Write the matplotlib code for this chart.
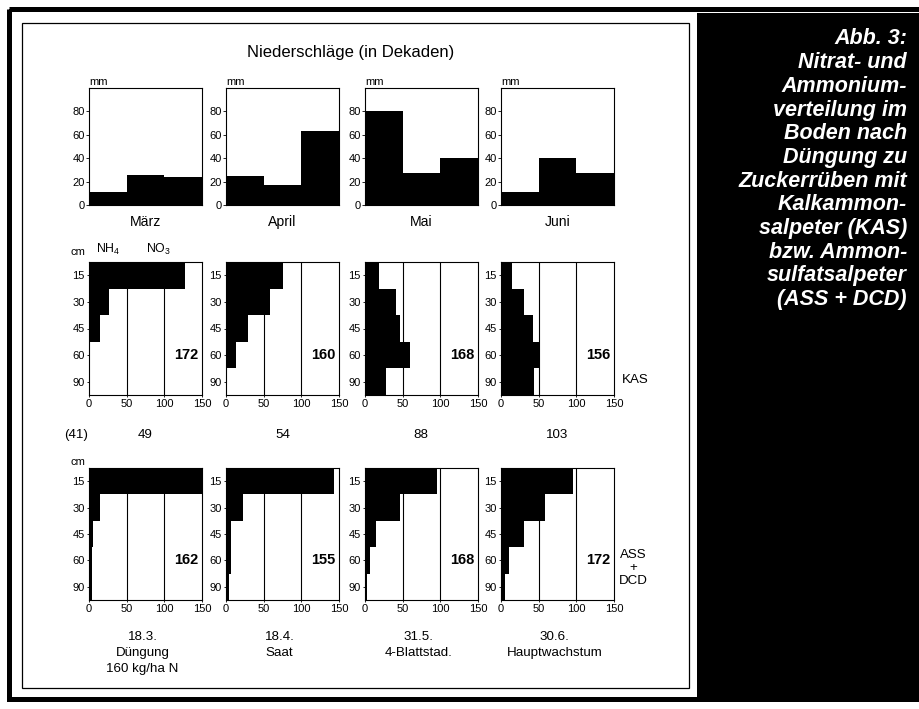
import numpy as np
import matplotlib
matplotlib.use("Agg")
import matplotlib.pyplot as plt
import matplotlib.font_manager as fm
from matplotlib.patches import Rectangle

# ---------------- data ----------------
months = ['März', 'April', 'Mai', 'Juni']
precip_maerz = [11, 26, 24]
precip_april = [25, 17, 63]
precip_mai = [80, 27, 40]
precip_juni = [11, 40, 27]
precip_ticks = [0, 20, 40, 60, 80]

depth_labels = ['15', '30', '45', '60', '90']
kas_1803 = [128, 27, 14, 0, 0]
kas_1804 = [76, 59, 29, 13, 0]
kas_3105 = [19, 41, 46, 60, 28]
kas_3006 = [14, 31, 43, 51, 44]
ass_1803 = [150, 15, 5, 4, 4]
ass_1804 = [143, 22, 6, 6, 4]
ass_3105 = [96, 47, 14, 7, 2]
ass_3006 = [95, 59, 30, 10, 5]
kas_totals = ['172', '160', '168', '156']
ass_totals = ['162', '155', '168', '172']
n_ticks = [0, 50, 100, 150]
between_values = ['(41)', '49', '54', '88', '103']
dates = ['18.3.', '18.4.', '31.5.', '30.6.']
stages = ['Düngung\n160 kg/ha N', 'Saat', '4-Blattstad.', 'Hauptwachstum']
caption = ['Abb. 3:', 'Nitrat- und', 'Ammonium-', 'verteilung im', 'Boden nach',
           'Düngung zu', 'Zuckerrüben mit', 'Kalkammon-', 'salpeter (KAS)',
           'bzw. Ammon-', 'sulfatsalpeter', '(ASS + DCD)']

# ---------------- fonts ----------------
avail = {f.name for f in fm.fontManager.ttflist}
if 'Liberation Sans Narrow' in avail:
    COND, sc = 'Liberation Sans Narrow', 1.0
else:
    COND, sc = 'Liberation Sans', 0.84
plt.rcParams['font.family'] = [COND, 'DejaVu Sans']
plt.rcParams['mathtext.fontset'] = 'custom'
plt.rcParams['mathtext.rm'] = COND

W, H = 920, 709
fig = plt.figure(figsize=(W / 100, H / 100), dpi=100)
fig.patch.set_facecolor('white')

bg = fig.add_axes([0, 0, 1, 1])
bg.set_xlim(0, W)
bg.set_ylim(H, 0)
bg.axis('off')

# frames and black caption panel
bg.add_patch(Rectangle((9, 9), W, 690, fill=False, lw=3.6, ec='black'))
bg.add_patch(Rectangle((22, 23), 667, 665, fill=False, lw=0.9, ec='black'))
bg.add_patch(Rectangle((697, 13), W - 697, 684, fc='black', ec='none'))


def px_axes(x0, y0, w, h):
    return fig.add_axes([x0 / W, 1 - (y0 + h) / H, w / W, h / H])


lefts = [89, 226, 365, 501]
cw = 113

# ---------------- precipitation ----------------
precip_all = [precip_maerz, precip_april, precip_mai, precip_juni]
for i, (m, vals) in enumerate(zip(months, precip_all)):
    ax = px_axes(lefts[i], 88, cw, 117)
    ax.bar(np.arange(3) + 0.5, vals, width=1.0, color='black', zorder=3)
    ax.set_xlim(0, 3)
    ax.set_ylim(0, 100)
    ax.set_xticks([])
    ax.set_yticks(precip_ticks)
    ax.set_yticklabels([str(t) for t in precip_ticks], fontsize=9.5 * sc)
    ax.tick_params(axis='y', length=2, width=0.6, pad=1)
    for s in ax.spines.values():
        s.set_linewidth(0.8)
    ax.text(0, 1.01, 'mm', transform=ax.transAxes, fontsize=9.5 * sc,
            ha='left', va='bottom')
    bg.text(lefts[i] + cw / 2, 222, m, fontsize=12 * sc, ha='center', va='center')

bg.text(351, 52, 'Niederschläge (in Dekaden)', family='Liberation Sans',
        fontsize=12, ha='center', va='center')


# ---------------- soil profiles ----------------
def soil(ax, vals, total):
    ax.barh(np.arange(5) + 0.5, vals, height=1.0, color='black', zorder=3)
    for g in (50, 100):
        ax.axvline(g, color='black', lw=0.8, zorder=2)
    ax.set_xlim(0, 150)
    ax.set_ylim(5, 0)
    ax.set_yticks(np.arange(5) + 0.5)
    ax.set_yticklabels(depth_labels, fontsize=9.5 * sc)
    ax.set_xticks(n_ticks)
    ax.set_xticklabels([str(t) for t in n_ticks], fontsize=9.5 * sc)
    ax.tick_params(length=1.5, width=0.6, pad=1.5)
    for s in ax.spines.values():
        s.set_linewidth(0.8)
    ax.text(145, 3.5, total, fontsize=12.5 * sc, fontweight='bold',
            ha='right', va='center', zorder=4)


kas_all = [kas_1803, kas_1804, kas_3105, kas_3006]
ass_all = [ass_1803, ass_1804, ass_3105, ass_3006]
for i in range(4):
    soil(px_axes(lefts[i], 262, cw, 133), kas_all[i], kas_totals[i])
    soil(px_axes(lefts[i], 468, cw, 132), ass_all[i], ass_totals[i])

# header labels
bg.text(71, 252, 'cm', fontsize=9.5 * sc, ha='left', va='center')
bg.text(96, 249, r'NH$_4$', fontsize=10.5 * sc, ha='left', va='center')
bg.text(146, 249, r'NO$_3$', fontsize=10.5 * sc, ha='left', va='center')
bg.text(71, 462, 'cm', fontsize=9.5 * sc, ha='left', va='center')

# values between rows
between_x = [76, 145, 283, 421, 557]
for x, t in zip(between_x, between_values):
    bg.text(x, 435, t, fontsize=11.5 * sc, ha='center', va='center')

bg.text(622, 380, 'KAS', fontsize=11.5 * sc, ha='left', va='center')
bg.text(633, 568, 'ASS\n+\nDCD', fontsize=11.5 * sc, ha='center', va='center',
        linespacing=1.1)

# dates and stages
for i in range(4):
    cx = lefts[i] + cw / 2 - 3
    bg.text(cx, 637, dates[i], fontsize=11.5 * sc, ha='center', va='center')
    bg.text(cx, 647, stages[i], fontsize=11.5 * sc, ha='center', va='top',
            linespacing=1.45)

# caption in black panel
for k, line in enumerate(caption):
    bg.text(907, 39 + 23.7 * k, line, family='Liberation Sans', fontsize=15.5,
            fontweight='bold', fontstyle='italic', color='white',
            ha='right', va='center')

fig.savefig('out.png', dpi=100, facecolor='white')
